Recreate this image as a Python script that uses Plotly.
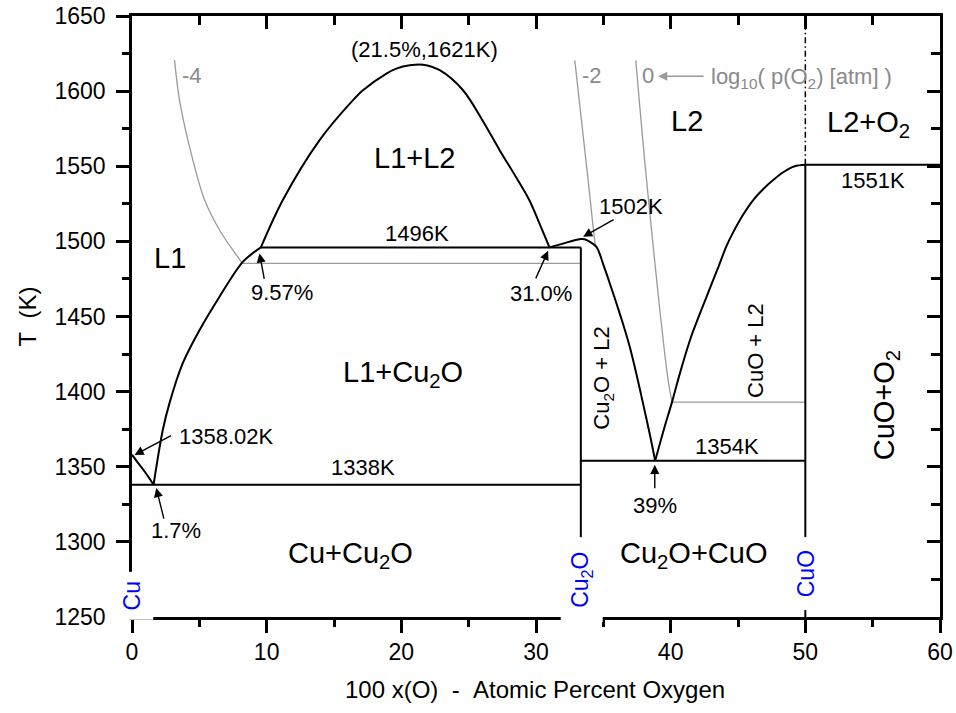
import plotly.graph_objects as go

FONT = "Liberation Sans, Arial, Helvetica, sans-serif"

# ---------------- data ----------------
# Cu-rich liquidus: Cu melting point down to the eutectic
cu_liq_x = [0.0, 0.4, 0.8, 1.2, 1.6]
cu_liq_T = [1358.02, 1353.1, 1348.5, 1343.5, 1338.0]

# L1 liquidus (Cu2O side): eutectic up to monotectic
l1_liq_x = [1.6, 2.29, 2.79, 3.77, 5.02, 6.50, 8.23, 9.57]
l1_liq_T = [1338.0, 1374.6, 1392.5, 1418.9, 1441.0, 1463.2, 1486.4, 1496.0]

# L1+L2 miscibility gap dome
dome_x = [9.57, 11.2, 13.93, 16.41, 17.15, 18.89, 19.63, 20.62, 21.6, 22.85, 24.58, 26.0, 27.3, 28.5, 29.5, 30.3, 31.0]
dome_T = [1496.0, 1527.5, 1567.4, 1594.0, 1600.6, 1611.7, 1615.0, 1617.2, 1617.6, 1613.9, 1600.6, 1581.0, 1560.7, 1543.0, 1527.5, 1511.0, 1496.0]

# Cu2O liquidus (both sides of the congruent melting point)
cu2o_liq_x = [31.0, 32.0, 32.8, 33.33, 33.6, 34.0, 34.49, 35.0, 35.5, 36.0, 36.5, 37.0, 37.5, 38.0, 38.5, 38.85]
cu2o_liq_T = [1496.0, 1498.5, 1500.6, 1501.5, 1501.4, 1499.7, 1496.4, 1484.5, 1471.5, 1458.0, 1444.0, 1428.5, 1410.0, 1390.0, 1369.5, 1354.0]

# CuO liquidus
cuo_liq_x = [38.85, 39.5, 40.1, 40.68, 41.5, 42.67, 43.5, 44.15, 44.64, 45.4, 46.13, 46.9, 47.61, 48.36, 49.2, 50.0]
cuo_liq_T = [1354.0, 1375.0, 1393.0, 1412.0, 1436.0, 1463.2, 1482.0, 1497.0, 1506.0, 1518.0, 1527.5, 1535.0, 1540.8, 1546.0, 1550.0, 1551.0]

# invariant / compound lines
eut1_x, eut1_T = [0.0, 33.33], [1338.0, 1338.0]
mono_x, mono_T = [9.57, 33.33], [1496.0, 1496.0]
eut2_x, eut2_T = [33.33, 50.0], [1354.0, 1354.0]
cuo_melt_x, cuo_melt_T = [50.0, 60.0], [1551.0, 1551.0]
cu2o_v_x, cu2o_v_T = [33.33, 33.33], [1250.0, 1496.0]
cuo_v_x, cuo_v_T = [50.0, 50.0], [1250.0, 1551.0]
cuo_dd_x, cuo_dd_T = [50.0, 50.0], [1551.0, 1650.0]

# oxygen isobars log10 p(O2) = -4, -2, 0
iso_m4_x = [3.16, 3.53, 4.52, 5.39, 6.50, 8.20]
iso_m4_T = [1620.6, 1593.9, 1554.1, 1527.5, 1507.6, 1485.4]
iso_m4_h_x, iso_m4_h_T = [8.20, 33.33], [1485.4, 1485.4]
iso_m2_x = [32.88, 33.87, 34.24, 34.40]
iso_m2_T = [1620.5, 1540.8, 1509.7, 1497.5]
iso_0_x = [37.41, 38.21, 39.81, 40.10]
iso_0_T = [1620.5, 1540.8, 1407.7, 1393.0]
iso_0_h_x, iso_0_h_T = [40.10, 50.0], [1393.0, 1393.0]

x_ticks = [0, 10, 20, 30, 40, 50, 60]
y_ticks = [1250, 1300, 1350, 1400, 1450, 1500, 1550, 1600, 1650]

# ---------------- figure ----------------
fig = go.Figure()


def add_line(x, y, color="black", width=2.0, dash="solid", smooth=False):
    ln = dict(color=color, width=width, dash=dash)
    if smooth:
        ln.update(shape="spline", smoothing=0.9)
    fig.add_trace(go.Scatter(x=x, y=y, mode="lines", line=ln,
                             hoverinfo="skip", showlegend=False))


GRAY_LINE = "#9a9a9a"
for xs, ts in [(iso_m4_x, iso_m4_T), (iso_m2_x, iso_m2_T), (iso_0_x, iso_0_T)]:
    add_line(xs, ts, color=GRAY_LINE, width=1.3, smooth=True)
for xs, ts in [(iso_m4_h_x, iso_m4_h_T), (iso_0_h_x, iso_0_h_T)]:
    add_line(xs, ts, color=GRAY_LINE, width=1.3)

for xs, ts in [(cu_liq_x, cu_liq_T), (l1_liq_x, l1_liq_T), (dome_x, dome_T),
               (cu2o_liq_x, cu2o_liq_T), (cuo_liq_x, cuo_liq_T)]:
    add_line(xs, ts, color="black", width=2.0, smooth=True)

for xs, ts in [(eut1_x, eut1_T), (mono_x, mono_T), (eut2_x, eut2_T),
               (cuo_melt_x, cuo_melt_T), (cu2o_v_x, cu2o_v_T), (cuo_v_x, cuo_v_T)]:
    add_line(xs, ts, color="black", width=2.0)

add_line(cuo_dd_x, cuo_dd_T, color="black", width=1.5, dash="6px,3px,1.5px,3px")

# dummy trace for the mirrored (top/right) axes
fig.add_trace(go.Scatter(x=[None], y=[None], xaxis="x2", yaxis="y2",
                         mode="lines", showlegend=False, hoverinfo="skip"))

ann = []


def txt(text, x, y, size=22, color="black", angle=0, xanchor="center", **kw):
    d = dict(text=text, x=x, y=y, xref="x", yref="y", showarrow=False,
             font=dict(family=FONT, size=size, color=color), textangle=angle,
             xanchor=xanchor, yanchor="middle")
    d.update(kw)
    ann.append(d)


def arrow(x, y, ax, ay, color="black"):
    ann.append(dict(text="", x=x, y=y, xref="x", yref="y", ax=ax, ay=ay,
                    axref="pixel", ayref="pixel", showarrow=True,
                    arrowhead=2, arrowsize=1.3, arrowwidth=1.4,
                    arrowcolor=color, standoff=0, startstandoff=0))


GRAY_TXT = "#8a8a8a"
BIG = 29
MED = 22

# region labels
txt("L1+L2", 21.0, 1555.3, BIG)
txt("L1", 2.79, 1489.2, BIG)
txt("L2", 41.2, 1580.0, BIG)
txt("L2+O<sub>2</sub>", 51.45, 1578.0, BIG, xanchor="left")
txt("L1+Cu<sub>2</sub>O", 20.1, 1412.0, BIG)
txt("Cu+Cu<sub>2</sub>O", 16.24, 1291.0, BIG)
txt("Cu<sub>2</sub>O+CuO", 41.72, 1291.5, BIG)
txt("CuO+O<sub>2</sub>", 56.0, 1391.0, BIG, angle=-90)
txt("Cu<sub>2</sub>O + L2", 35.0, 1408.8, MED, angle=-90)
txt("CuO + L2", 46.25, 1427.6, MED, angle=-90)

# values
txt("(21.5%,1621K)", 21.73, 1627.8, MED)
txt("1551K", 55.0, 1540.3, MED)
txt("1496K", 21.2, 1505.5, MED)
txt("1502K", 37.04, 1523.1, MED)
txt("9.57%", 11.15, 1466.0, MED)
txt("31.0%", 30.35, 1465.6, MED)
txt("1358.02K", 7.0, 1370.1, MED)
txt("1354K", 44.15, 1363.4, MED)
txt("1338K", 17.13, 1349.3, MED)
txt("1.7%", 3.23, 1307.4, MED)
txt("39%", 38.82, 1324.0, MED)

# isobar labels
txt("-4", 4.46, 1610.6, MED, GRAY_TXT)
txt("-2", 34.14, 1610.6, MED, GRAY_TXT)
txt("0", 38.33, 1610.6, MED, GRAY_TXT)
txt("log<sub>10</sub>( p(O<sub>2</sub>) [atm] )", 42.85, 1609.0, MED, GRAY_TXT, xanchor="left")

# arrows
arrow(0.19, 1357.9, 38, -20)
arrow(1.80, 1335.8, 8, 32)
arrow(9.47, 1492.0, 5, 27)
arrow(30.9, 1493.7, -13, 29)
arrow(33.5, 1503.1, 32, -18)
arrow(38.82, 1351.3, 0, 25)
arrow(39.07, 1609.9, 47, 0, color="#9a9a9a")

# compound markers (blue, with white background covering the axes)
for label, x, y, w in [("Cu", 0.0, 1263.8, 47),
                       ("Cu<sub>2</sub>O", 33.41, 1274.8, 84),
                       ("CuO", 50.04, 1278.8, 72)]:
    ann.append(dict(text=label, x=x, y=y, xref="x", yref="y", showarrow=False,
                    font=dict(family=FONT, size=23, color="#0000ff"),
                    textangle=-90, bgcolor="white", width=w, height=41,
                    borderpad=0, xanchor="center", yanchor="middle"))

# axis titles
ann.append(dict(text="100 x(O)\u00a0\u00a0-\u00a0\u00a0Atomic Percent Oxygen",
                x=(535 - 132) / 808, y=-(690 - 617) / 601, xref="paper", yref="paper",
                showarrow=False, font=dict(family=FONT, size=24, color="black"),
                xanchor="center", yanchor="middle"))
ann.append(dict(text="T\u00a0\u00a0(K)", x=(27 - 132) / 808, y=0.5,
                xref="paper", yref="paper", showarrow=False, textangle=-90,
                font=dict(family=FONT, size=24, color="black"),
                xanchor="center", yanchor="middle"))

tickfont = dict(family=FONT, size=23, color="black")
common = dict(showgrid=False, zeroline=False, showline=True, linewidth=2.5,
              linecolor="black", tickcolor="black", tickwidth=2.5, ticklen=13,
              automargin=False)

fig.update_layout(
    width=956, height=713,
    margin=dict(l=132, r=16, t=16, b=96, autoexpand=False),
    plot_bgcolor="white", paper_bgcolor="white",
    showlegend=False,
    xaxis=dict(range=[0, 60], tickvals=x_ticks, ticks="outside", tickfont=tickfont,
               minor=dict(dtick=5, tick0=0, ticks="outside", ticklen=7, tickwidth=2.5,
                          tickcolor="black", showgrid=False),
               **common),
    yaxis=dict(range=[1250, 1650], tickvals=y_ticks, ticks="outside", tickfont=tickfont,
               ticklabelstandoff=6,
               minor=dict(dtick=25, tick0=1250, ticks="outside", ticklen=7, tickwidth=2.5,
                          tickcolor="black", showgrid=False),
               **common),
    xaxis2=dict(range=[0, 60], overlaying="x", side="top", anchor="y2",
                tickvals=x_ticks, ticks="inside", showticklabels=False,
                minor=dict(dtick=5, tick0=0, ticks="inside", ticklen=9, tickwidth=2.5,
                           tickcolor="black", showgrid=False),
                **common),
    yaxis2=dict(range=[1250, 1650], overlaying="y", side="right", anchor="x2",
                tickvals=y_ticks, ticks="inside", showticklabels=False,
                minor=dict(dtick=25, tick0=1250, ticks="inside", ticklen=9, tickwidth=2.5,
                           tickcolor="black", showgrid=False),
                **common),
    annotations=ann,
)

fig.write_html("out.html")
